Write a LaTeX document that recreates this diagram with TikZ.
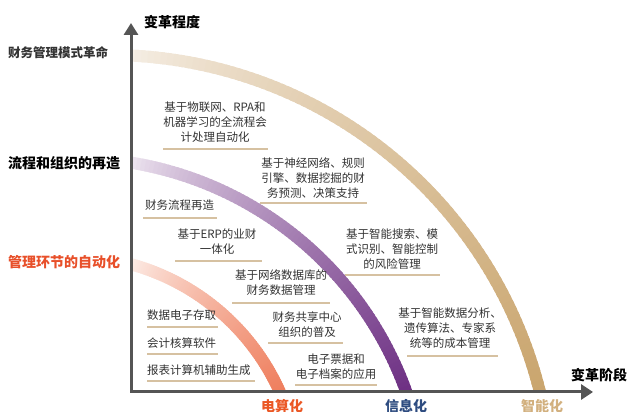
\documentclass[tikz,border=0pt]{standalone}
\usepackage{fontspec}
\setmainfont{Noto Sans CJK SC}
\usetikzlibrary{arrows.meta}
\definecolor{axisgray}{HTML}{555555}
\definecolor{txtgray}{HTML}{333333}
\definecolor{ulcol}{HTML}{D6C1A1}
\definecolor{tanL}{HTML}{F6EFE6}
\definecolor{tanD}{HTML}{C9A46C}
\definecolor{purL}{HTML}{F0E9F2}
\definecolor{purD}{HTML}{6A2B80}
\definecolor{orL}{HTML}{FDF1EC}
\definecolor{orD}{HTML}{EE7A58}
\definecolor{redlbl}{HTML}{E8502A}
\definecolor{bluelbl}{HTML}{2E4C80}
\definecolor{tanlbl}{HTML}{D2B07E}
\newcommand\gradarc[7]{%
  \foreach \i in {0,...,89}{%
    \pgfmathsetmacro\aa{#4+(#5-#4)*\i/90}%
    \pgfmathsetmacro\bb{#4+(#5-#4)*(\i+1.6)/90}%
    \pgfmathsetmacro\pc{100*(\i/89)^0.75}%
    \draw[arcline, draw=#7!\pc!#6] (#1,#2) ++(\aa:#3) arc[start angle=\aa, end angle=\bb, radius=#3];
  }}
\tikzset{
  lbl/.style={align=center, text=txtgray, font=\fontsize{11.5}{15}\selectfont, inner sep=0pt},
  lbll/.style={lbl, anchor=west, align=left},
  uline/.style={line width=2.2pt, draw=ulcol},
  axisline/.style={line width=3pt, draw=axisgray, {Triangle[length=12pt,width=14pt]}-{Triangle[length=12pt,width=15pt]}},
  side/.style={font=\bfseries\fontsize{14}{16}\selectfont, anchor=west, inner sep=0pt},
  stage/.style={font=\bfseries\fontsize{14}{16}\selectfont, inner sep=0pt},
  arcline/.style={line width=12pt, line cap=butt},
}
\begin{document}
\begin{tikzpicture}[x=1pt,y=1pt]
\useasboundingbox[fill=white] (0,0) rectangle (629,412);
% arcs
\begin{scope}
\clip (131,20) rectangle (629,412);
\gradarc{109}{-87}{444}{87.5}{12}{tanL}{tanD}
\gradarc{74}{-99}{353}{81.2}{17}{purL}{purD}
\gradarc{70}{-74}{230}{75.4}{21}{orL}{orD}
\end{scope}
% axes
\coordinate (O) at (131,20);
\coordinate (ytip) at (131,389);
\coordinate (xtip) at (593,20);
\draw[axisline] (ytip) -- (O) -- (xtip);
\node[stage] (ylab) at (172,390) {变革程度};
\node[stage] (xlab) at (599,37) {变革阶段};
% side labels
\node[side, text=txtgray, font=\bfseries\fontsize{12.5}{14}\selectfont] (s1) at (8,359) {财务管理模式革命};
\node[side, text=black] (s2) at (8,249) {流程和组织的再造};
\node[side, text=redlbl] (s3) at (8,150) {管理环节的自动化};
% stage labels
\node[stage, text=redlbl!85!orange] (st1) at (282,6) {电算化};
\node[stage, text=bluelbl] (st2) at (406,6) {信息化};
\node[stage, text=tanlbl] (st3) at (542,6) {智能化};
% content labels
\node[lbl] (t1) at (215,290) {基于物联网、RPA和\\机器学习的全流程会\\计处理自动化};
\draw[uline] (163,263) -- (268,263);
\node[lbl] (t2) at (313,234) {基于神经网络、规则\\引擎、数据挖掘的财\\务预测、决策支持};
\draw[uline] (260,209) -- (367,209);
\node[lbll] (t3) at (145,207) {财务流程再造};
\draw[uline] (143,194) -- (217,194);
\node[lbl] (t4) at (217,170) {基于ERP的业财\\一体化};
\draw[uline] (175,151) -- (262,151);
\node[lbl] (t5) at (281,129) {基于网络数据库的\\财务数据管理};
\draw[uline] (232,109) -- (330,109);
\node[lbll] (t6) at (147,97) {数据电子存取};
\draw[uline] (147,85) -- (218,85);
\node[lbll] (t7) at (147,69) {会计核算软件};
\draw[uline] (147,58) -- (218,58);
\node[lbll] (t8) at (147,42) {报表计算机辅助生成};
\draw[uline] (147,31) -- (255,31);
\node[lbl] (t9) at (307,87) {财务共享中心\\组织的普及};
\draw[uline] (268,69) -- (343,69);
\node[lbl] (t10) at (336,45) {电子票据和\\电子档案的应用};
\draw[uline] (295,27) -- (377,27);
\node[lbl] (t11) at (392,163) {基于智能搜索、模\\式识别、智能控制\\的风险管理};
\draw[uline] (345,137) -- (440,137);
\node[lbl] (t12) at (450,84) {基于智能数据分析、\\遗传算法、专家系\\统等的成本管理};
\draw[uline] (407,56) -- (498,56);
\end{tikzpicture}
\end{document}
